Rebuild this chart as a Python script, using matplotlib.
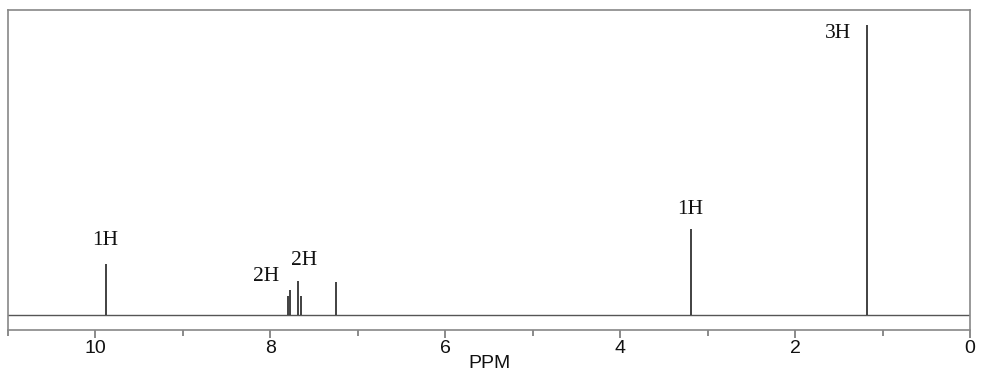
import matplotlib
matplotlib.use("Agg")
import matplotlib.pyplot as plt
from matplotlib.ticker import MultipleLocator

# peak positions (ppm) and heights (arbitrary intensity)
peak_ppm = [9.88, 7.80, 7.77, 7.68, 7.645, 7.245, 3.195, 1.178]
peak_height = [51, 19, 25, 34, 19, 33, 86, 290]

# integration labels
label_text = ["1H", "2H", "2H", "1H", "3H"]
label_ppm = [9.89, 8.05, 7.62, 3.20, 1.51]
label_y = [70, 34, 50, 101, 277]

fig = plt.figure(figsize=(9.84, 3.85), dpi=100)
ax = fig.add_axes([8 / 984, 55 / 385, 962 / 984, 320 / 385])

line_col = "#333333"
ax.axhline(0, color="#555555", lw=1.0)
ax.vlines(peak_ppm, 0, peak_height, color=line_col, lw=1.3)

for t, x, y in zip(label_text, label_ppm, label_y):
    ax.text(x, y, t, ha="center", va="baseline", fontsize=15.5,
            family="Liberation Serif", color="#111111")

ax.set_xlim(11, 0)
ax.set_ylim(-15, 305)
ax.xaxis.set_major_locator(MultipleLocator(2))
ax.xaxis.set_minor_locator(MultipleLocator(1))
ax.set_yticks([])
for s in ax.spines.values():
    s.set_color("#888888")
    s.set_linewidth(1.2)
ax.tick_params(axis="x", which="major", length=6, width=1.2, color="#777777",
               pad=1, labelsize=14, labelcolor="#111111")
ax.tick_params(axis="x", which="minor", length=4, width=1.2, color="#777777")
for lab in ax.get_xticklabels():
    lab.set_family("Liberation Sans")
ax.set_xlabel("PPM", fontsize=14, family="Liberation Sans", labelpad=-1,
              color="#111111")

fig.savefig("out.png", dpi=100)
